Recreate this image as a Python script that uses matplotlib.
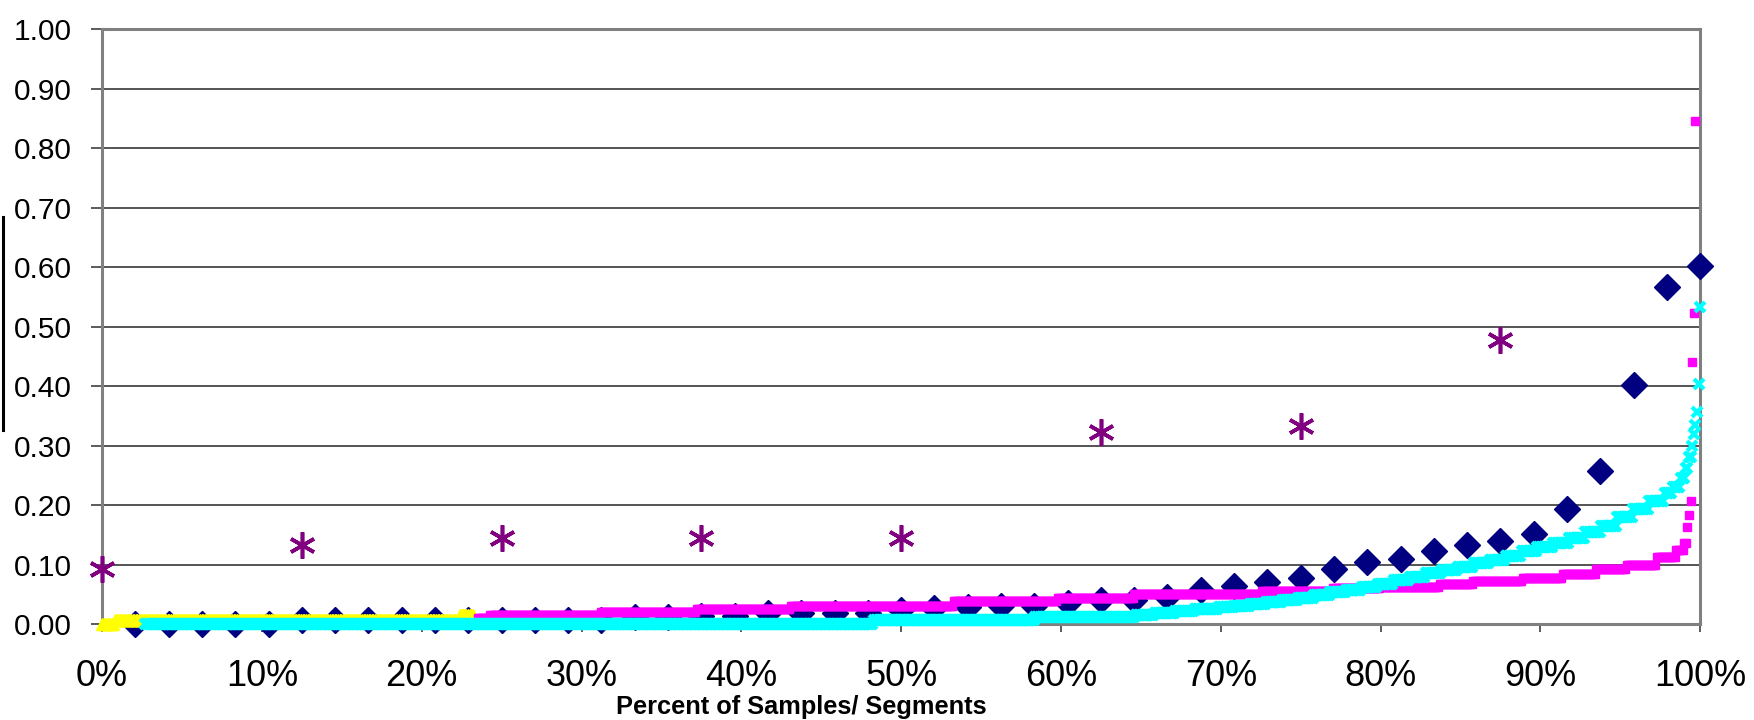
import numpy as np
import matplotlib.pyplot as plt
from matplotlib.lines import Line2D

plt.rcParams['font.family'] = ['Liberation Sans', 'DejaVu Sans']

# Navy diamonds: 48 segments, sorted values
segment_values = [0.000, 0.000, 0.000, 0.000, 0.000, 0.006, 0.006, 0.006, 0.006, 0.006,
                  0.006, 0.006, 0.006, 0.006, 0.006, 0.011, 0.011, 0.014, 0.014, 0.018,
                  0.018, 0.018, 0.018, 0.024, 0.027, 0.029, 0.030, 0.030, 0.036, 0.040,
                  0.041, 0.046, 0.057, 0.064, 0.071, 0.077, 0.092, 0.104, 0.110, 0.122,
                  0.133, 0.140, 0.151, 0.193, 0.257, 0.402, 0.567, 0.601]

# Purple asterisks: 8 samples, sorted values
sample_values = [0.092, 0.133, 0.144, 0.144, 0.144, 0.322, 0.333, 0.478]

# Dense series read as value levels and how many points sit on each level
yellow_levels = [0.000, 0.006, 0.016]
yellow_counts = [8, 215, 9]
yellow_range = (0.0, 23.2)

magenta_levels = [0.010, 0.015, 0.020, 0.025, 0.031, 0.039, 0.044, 0.050, 0.055, 0.060,
                  0.063, 0.067, 0.072, 0.077, 0.084, 0.092, 0.100, 0.112, 0.124, 0.137,
                  0.163, 0.183, 0.207, 0.441, 0.523, 0.845]
magenta_counts = [8, 69, 60, 59, 102, 65, 48, 80, 44, 30,
                  37, 21, 31, 25, 21, 19, 19, 12, 5, 2,
                  1, 1, 1, 1, 1, 1]
magenta_range = (23.5, 99.7)

cyan_levels = [0.000, 0.006, 0.011, 0.015, 0.018, 0.022, 0.025,
               0.028, 0.031, 0.034, 0.037, 0.040, 0.044, 0.048, 0.053, 0.058, 0.063,
               0.068, 0.074, 0.079, 0.085, 0.090, 0.096, 0.102, 0.108, 0.115, 0.122,
               0.129, 0.137, 0.145, 0.154, 0.165, 0.180, 0.193, 0.207,
               0.220, 0.230, 0.245, 0.262, 0.280,
               0.300, 0.320, 0.335, 0.356, 0.403, 0.532]
cyan_counts = [457, 101, 63, 12, 13, 12, 15,
               10, 10, 10, 10, 10, 10, 10, 10, 10, 10,
               10, 10, 10, 10, 10, 10, 10, 10, 10, 10,
               10, 10, 10, 10, 10, 10, 10, 10,
               5, 5, 3, 2, 2,
               1, 1, 1, 1, 1, 1]
cyan_range = (2.7, 100.0)

x_ticks = [0, 10, 20, 30, 40, 50, 60, 70, 80, 90, 100]
y_ticks = [0.0, 0.1, 0.2, 0.3, 0.4, 0.5, 0.6, 0.7, 0.8, 0.9, 1.0]


def dense_series(levels, counts, xr):
    y = np.repeat(levels, counts)
    x = np.linspace(xr[0], xr[1], len(y))
    return x, y


fig = plt.figure(figsize=(17.54, 7.2), dpi=100)
ax = fig.add_axes([0.0582, 0.1333, 0.9111, 0.8264])

# percent rank of each point
seg_x = np.arange(1, len(segment_values) + 1) / len(segment_values) * 100
samp_x = np.arange(0, len(sample_values)) / len(sample_values) * 100

ax.plot(seg_x, segment_values, linestyle='none', marker='D', markersize=13,
        color='#000080', zorder=3, clip_on=False)

yx, yy = dense_series(yellow_levels, yellow_counts, yellow_range)
ax.plot(yx, yy, linestyle='none', marker='^', markersize=8, color='#ffff00',
        zorder=4, clip_on=False)

mx, my = dense_series(magenta_levels, magenta_counts, magenta_range)
ax.plot(mx, my, linestyle='none', marker='s', markersize=6, color='#ff00ff',
        zorder=5, clip_on=False)

cx, cy = dense_series(cyan_levels, cyan_counts, cyan_range)
ax.plot(cx, cy, linestyle='none', marker='x', markersize=7.5, markeredgewidth=3,
        color='#00ffff', zorder=6, clip_on=False)

ax.plot(samp_x, sample_values, linestyle='none', marker=(6, 2, 0), markersize=19,
        markeredgewidth=2.6, color='#800080', zorder=7, clip_on=False)

ax.set_xlim(0, 100)
ax.set_ylim(0, 1.0)
ax.set_xticks(x_ticks)
ax.set_xticklabels([f'{v}%' for v in x_ticks])
ax.set_yticks(y_ticks)
ax.set_yticklabels([f'{v:.2f}' for v in y_ticks])

ax.yaxis.grid(True, color='#262626', linewidth=1.1)
ax.set_axisbelow(True)
for s in ax.spines.values():
    s.set_color('#808080')
    s.set_linewidth(2.2)

ax.tick_params(axis='y', length=8, width=1.2, color='#404040', labelsize=21.5, pad=14)
ax.tick_params(axis='x', length=6, width=1.2, color='#404040', labelsize=26, pad=19)

xlab = fig.text(0.4567, 0.0176, 'Percent of Samples/ Segments', fontsize=13.5,
                fontweight='bold', ha='center', va='center')
# stretch the label to the width it has in the original
fig.canvas.draw()
w = xlab.get_window_extent().width
xlab.set_fontsize(13.5 * 371 / w)

# leftover bar of the clipped axis title
fig.add_artist(Line2D([0.0015, 0.0015], [0.403, 0.699], color='black', linewidth=2.2))

fig.savefig('out.png', dpi=100)
